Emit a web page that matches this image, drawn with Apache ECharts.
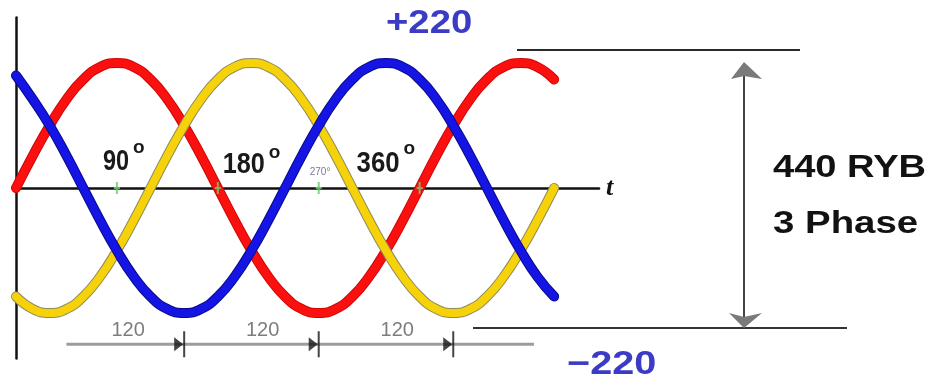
<!DOCTYPE html>
<html>
<head>
<meta charset="utf-8">
<title>440 RYB 3 Phase</title>
<script src="https://cdn.jsdelivr.net/npm/echarts@6/dist/echarts.min.js"></script>
<style>
  html, body { margin: 0; padding: 0; background: #fff; }
  #chart { width: 932px; height: 390px; }
</style>
</head>
<body>
<div id="chart"></div>
<script>
// Electrical angle (degrees) of each sample
const angles = [0, 15, 30, 45, 60, 75, 90, 105, 120, 135, 150, 165, 180, 195, 210, 225,
  240, 255, 270, 285, 300, 315, 330, 345, 360, 375, 390, 405, 420, 435, 450, 465, 480];

// Instantaneous phase voltages (V) at each angle
const phaseR = [0, 57, 110, 156, 191, 213, 220, 213, 191, 156, 110, 57, 0, -57, -110, -156,
  -191, -213, -220, -213, -191, -156, -110, -57, 0, 57, 110, 156, 191, 213, 220, 213, 191];
const phaseY = [-191, -213, -220, -213, -191, -156, -110, -57, 0, 57, 110, 156, 191, 213, 220, 213,
  191, 156, 110, 57, 0, -57, -110, -156, -191, -213, -220, -213, -191, -156, -110, -57, 0];
const phaseB = [198, 156, 110, 57, 0, -57, -110, -156, -191, -213, -220, -213, -191, -156, -110, -57,
  0, 57, 110, 156, 191, 213, 220, 213, 191, 156, 110, 57, 0, -57, -110, -156, -191];

// Angle marks on the time axis
const degreeTicks = [90, 180, 270, 360];
const degreeText = ['90', '180', '270', '360'];

// 120 degree phase spacing ruler
const rulerEnds = [45, 462];
const rulerLevel = -275;
const spanMarks = [150, 270, 390];
const spanLabelAt = [100, 220, 340];
const spanText = ['120', '120', '120'];
const spanLabelLevel = -250;

// Peak and rating annotations
const peakText = ['+220', '\u2212220'];
const ratingText = ['440 RYB', '3 Phase'];

const SANS = '"Liberation Sans", Arial, sans-serif';

function pairs(xs, ys) { return xs.map((x, i) => [x, ys[i]]); }

function wave(name, values, color, edge, z) {
  const data = pairs(angles, values);
  return [
    { name: name + '-edge', type: 'line', data, smooth: true, showSymbol: false, silent: true, z,
      lineStyle: { color: edge, width: 10, cap: 'round', join: 'round' } },
    { name, type: 'line', data, smooth: true, showSymbol: false, silent: true, z: z + 1,
      lineStyle: { color, width: 8, cap: 'round', join: 'round' } }
  ];
}

const chart = echarts.init(document.getElementById('chart'), null, { renderer: 'canvas' });

const option = {
  animation: false,
  backgroundColor: '#ffffff',
  grid: { left: 16, top: 17.5, width: 583, height: 341 },
  xAxis: {
    type: 'value', min: 0, max: 520,
    axisLine: { show: true, onZero: true, lineStyle: { color: '#111', width: 2.5 } },
    axisTick: { show: false }, axisLabel: { show: false }, splitLine: { show: false },
    name: 't', nameLocation: 'end', nameGap: 7,
    nameTextStyle: { fontFamily: '"Liberation Serif", "DejaVu Serif", serif', fontStyle: 'italic',
      fontWeight: 'bold', fontSize: 26, color: '#111' }
  },
  yAxis: {
    type: 'value', min: -300, max: 300,
    axisLine: { show: true, onZero: false, lineStyle: { color: '#111', width: 2.5 } },
    axisTick: { show: false }, axisLabel: { show: false }, splitLine: { show: false }
  },
  series: [
    // spacing ruler
    { type: 'line', data: rulerEnds.map(a => [a, rulerLevel]), showSymbol: false, silent: true, z: 1,
      lineStyle: { color: '#9c9c9c', width: 3 } },
    { type: 'scatter', data: spanMarks.map(a => [a, rulerLevel]), silent: true, z: 1,
      symbol: 'path://M0,6 L9,13 L0,20 Z M9,0 L11,0 L11,26 L9,26 Z',
      symbolSize: [11, 26], symbolOffset: [-4.5, 0], itemStyle: { color: '#151515' } },
    { type: 'scatter', data: spanLabelAt.map((a, i) => ({ value: [a, spanLabelLevel], name: spanText[i] })),
      silent: true, symbolSize: 0, z: 1,
      label: { show: true, position: 'inside', formatter: p => p.name,
        fontFamily: SANS, fontSize: 20, color: '#5c5c5c' } },
    ...wave('R', phaseR, '#fb1010', '#d00606', 2),
    ...wave('Y', phaseY, '#f6d20a', '#8f8a5c', 4),
    ...wave('B', phaseB, '#1414e4', '#0b0b86', 6),
    // angle marks
    { type: 'scatter', data: degreeTicks.map(a => [a, 0]), silent: true, z: 9,
      symbol: 'path://M2,0 L4,0 L4,5 L6,5 L6,7 L4,7 L4,12 L2,12 L2,7 L0,7 L0,5 L2,5 Z',
      symbolSize: [6, 12], itemStyle: { color: '#6ccf6c', opacity: 0.85 } }
  ]
};
chart.setOption(option);

// Degree captions beside the angle marks (digits offset, superscript offset)
const degreeLayout = [
  { dx: -14, dy: -26, ox: 30, oy: -40, size: 29, sx: 0.81, color: '#1a1a1a' },
  { dx: 5, dy: -23, ox: 46, oy: -35, size: 29, sx: 0.87, color: '#1a1a1a' },
  { dx: -9, dy: -16, ox: 0, oy: 0, size: 10, sx: 1, color: '#7a7a96' },
  { dx: -63, dy: -24, ox: 47, oy: -39, size: 29, sx: 0.89, color: '#1a1a1a' }
];

const graphics = [];
degreeTicks.forEach((a, i) => {
  const [px, py] = chart.convertToPixel({ gridIndex: 0 }, [a, 0]);
  const L = degreeLayout[i];
  if (L.size < 14) {
    graphics.push({ type: 'text', x: px + L.dx, y: py + L.dy, z: 20,
      style: { text: degreeText[i] + '\u00b0', font: L.size + 'px ' + SANS, fill: L.color,
        textAlign: 'left', textVerticalAlign: 'middle' } });
    return;
  }
  graphics.push({ type: 'text', x: px + L.dx, y: py + L.dy, scaleX: L.sx, z: 20,
    style: { text: degreeText[i], font: 'bold ' + L.size + 'px ' + SANS, fill: L.color,
      textAlign: 'left', textVerticalAlign: 'middle' } });
  graphics.push({ type: 'text', x: px + L.dx + L.ox, y: py + L.oy, z: 20,
    style: { text: 'o', font: 'bold 19px ' + SANS, fill: L.color,
      textAlign: 'left', textVerticalAlign: 'middle' } });
});

// Peak labels
graphics.push({ type: 'text', x: 386, y: 24, scaleX: 1.16, z: 20,
  style: { text: peakText[0], font: 'bold 33px ' + SANS, fill: '#3b3bc6',
    textAlign: 'left', textVerticalAlign: 'middle' } });
graphics.push({ type: 'text', x: 567, y: 365, scaleX: 1.2, z: 20,
  style: { text: peakText[1], font: 'bold 33px ' + SANS, fill: '#3b3bc6',
    textAlign: 'left', textVerticalAlign: 'middle' } });

// Peak-to-peak dimension
graphics.push({ type: 'line', z: 20, shape: { x1: 517, y1: 50, x2: 800, y2: 50 },
  style: { stroke: '#2a2a2a', lineWidth: 2 } });
graphics.push({ type: 'line', z: 20, shape: { x1: 473, y1: 328, x2: 847, y2: 328 },
  style: { stroke: '#333', lineWidth: 2 } });
graphics.push({ type: 'line', z: 20, shape: { x1: 744, y1: 70, x2: 744, y2: 322 },
  style: { stroke: '#444', lineWidth: 2 } });
graphics.push({ type: 'polygon', z: 21, shape: { points: [[744, 62], [762, 79], [744, 76], [731, 79]] },
  style: { fill: '#7a7a7a' } });
graphics.push({ type: 'polygon', z: 21, shape: { points: [[744, 328], [729, 313], [744, 317], [762, 313]] },
  style: { fill: '#7a7a7a' } });

// Rating caption
graphics.push({ type: 'text', x: 773, y: 168.5, scaleX: 1.19, z: 20,
  style: { text: ratingText[0], font: 'bold 32px ' + SANS, fill: '#121212',
    textAlign: 'left', textVerticalAlign: 'middle' } });
graphics.push({ type: 'text', x: 773, y: 224, scaleX: 1.2, z: 20,
  style: { text: ratingText[1], font: 'bold 32px ' + SANS, fill: '#121212',
    textAlign: 'left', textVerticalAlign: 'middle' } });

chart.setOption({ graphic: graphics });
</script>
</body>
</html>
